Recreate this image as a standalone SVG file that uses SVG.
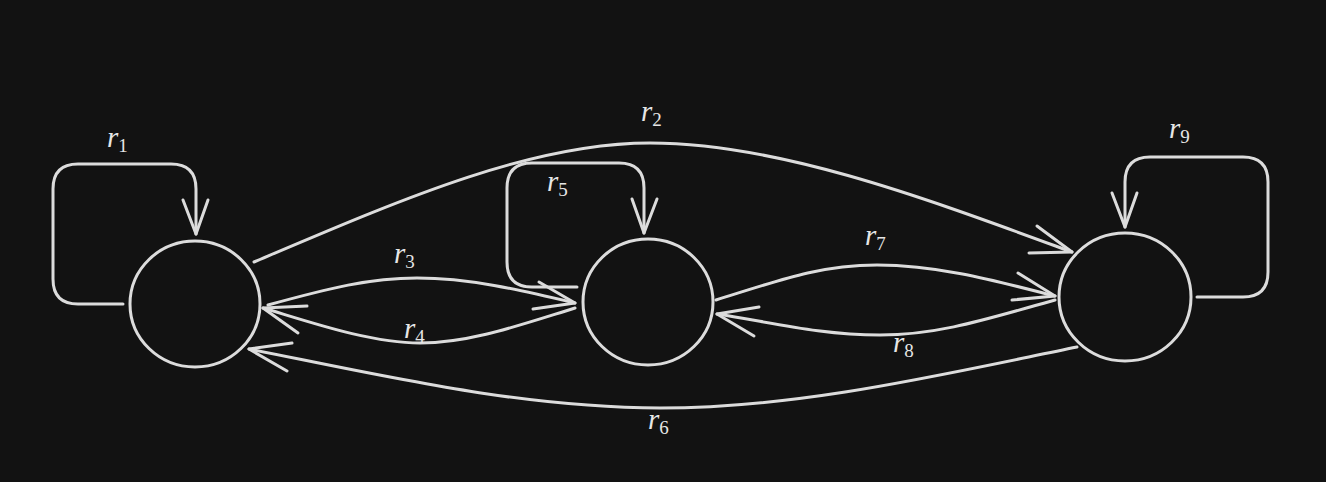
<svg xmlns="http://www.w3.org/2000/svg" width="1326" height="482" viewBox="0 0 1326 482">
<style>
.bg{fill:#121212}
.node{fill:none;stroke:#dcdcdc;stroke-width:3}
.edge{fill:none;stroke:#dcdcdc;stroke-width:3;stroke-linecap:round;stroke-linejoin:round}
</style>
<rect class="bg" x="0" y="0" width="1326" height="482"/>
<g id="node-left"><ellipse class="node" cx="195" cy="304" rx="65" ry="63"/></g>
<g id="node-middle"><ellipse class="node" cx="648" cy="302" rx="65" ry="63"/></g>
<g id="node-right"><ellipse class="node" cx="1125" cy="297" rx="66" ry="64"/></g>
<g id="connectors">
  <g id="r1">
    <path class="edge" d="M123,304 H78 Q53,304 53,279 V189 Q53,164 78,164 H171 Q196,164 196,189 V234"/>
    <path class="edge" d="M183,200 L196,234 L208,200"/>
  </g>
  <g id="r2">
    <path class="edge" d="M254,262 C400,200 530,143 650,143 C780,143 930,200 1072,252"/>
    <path class="edge" d="M1037,226 L1072,252 L1029,253"/>
  </g>
  <g id="r3">
    <path class="edge" d="M268,305 C330,288 370,278 417,278 C470,278 520,290 575,303"/>
    <path class="edge" d="M539,282 L575,303 L533,309"/>
  </g>
  <g id="r4">
    <path class="edge" d="M575,308 C520,325 470,343 420,343 C370,343 310,322 263,308"/>
    <path class="edge" d="M307,306 L263,308 L298,333"/>
  </g>
  <g id="r5">
    <path class="edge" d="M577,287 H532 Q507,287 507,262 V188 Q507,163 532,163 H619 Q644,163 644,188 V233"/>
    <path class="edge" d="M632,199 L644,233 L657,199"/>
  </g>
  <g id="r6">
    <path class="edge" d="M1077,347 C940,375 800,408 660,408 C520,408 380,375 249,349"/>
    <path class="edge" d="M292,343 L249,349 L287,371"/>
  </g>
  <g id="r7">
    <path class="edge" d="M716,300 C780,280 820,265 877,265 C940,265 1000,282 1055,296"/>
    <path class="edge" d="M1018,273 L1055,296 L1012,300"/>
  </g>
  <g id="r8">
    <path class="edge" d="M1055,300 C990,318 940,335 880,335 C820,335 770,322 717,314"/>
    <path class="edge" d="M759,307 L717,314 L754,336"/>
  </g>
  <g id="r9">
    <path class="edge" d="M1197,297 H1243 Q1268,297 1268,272 V182 Q1268,157 1243,157 H1150 Q1125,157 1125,182 V227"/>
    <path class="edge" d="M1112,193 L1125,227 L1137,193"/>
  </g>
</g>
<g id="labels" font-family="'Liberation Serif', 'DejaVu Serif', serif" font-size="29" font-style="italic" fill="#e6e6e6">
  <text x="107" y="147">r<tspan font-style="normal" font-size="19" dy="5">1</tspan></text>
  <text x="641" y="121">r<tspan font-style="normal" font-size="19" dy="5">2</tspan></text>
  <text x="394" y="263">r<tspan font-style="normal" font-size="19" dy="5">3</tspan></text>
  <text x="404" y="338">r<tspan font-style="normal" font-size="19" dy="5">4</tspan></text>
  <text x="547" y="191">r<tspan font-style="normal" font-size="19" dy="5">5</tspan></text>
  <text x="648" y="429">r<tspan font-style="normal" font-size="19" dy="5">6</tspan></text>
  <text x="865" y="245">r<tspan font-style="normal" font-size="19" dy="5">7</tspan></text>
  <text x="893" y="352">r<tspan font-style="normal" font-size="19" dy="5">8</tspan></text>
  <text x="1169" y="138">r<tspan font-style="normal" font-size="19" dy="5">9</tspan></text>
</g>
</svg>
